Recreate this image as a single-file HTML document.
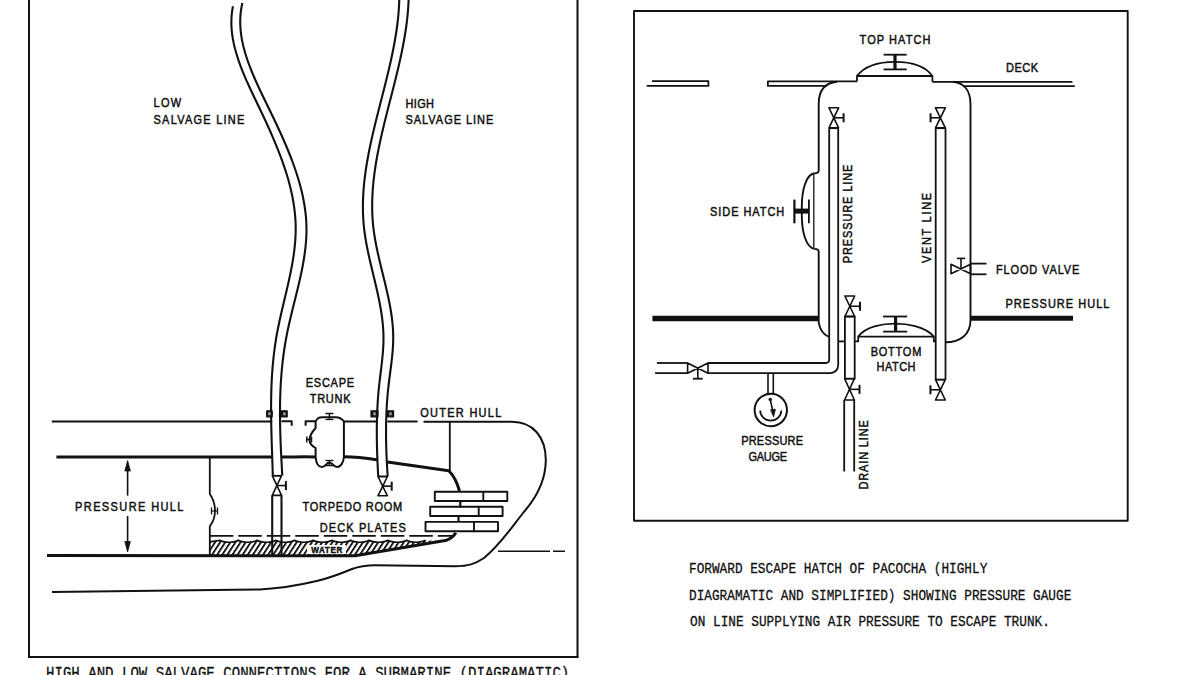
<!DOCTYPE html>
<html><head><meta charset="utf-8"><style>
html,body{margin:0;padding:0;background:#fff;}
body{width:1200px;height:675px;overflow:hidden;}
svg{display:block;}
.lb{font-family:"Liberation Sans",sans-serif;font-weight:normal;fill:#111;stroke:#111;stroke-width:0.5px;}
.wb{font-weight:bold;}
.cap{font-family:"Liberation Mono",monospace;font-weight:normal;fill:#111;stroke:#111;stroke-width:0.3px;}
</style></head><body>
<svg width="1200" height="675" viewBox="0 0 1200 675" stroke="#111" fill="none" stroke-linecap="butt" stroke-linejoin="round">
<line x1="29" y1="0" x2="29" y2="657" stroke-width="2.0"/>
<line x1="577.5" y1="0" x2="577.5" y2="657" stroke-width="2.0"/>
<line x1="28" y1="657" x2="578.5" y2="657" stroke-width="2.0"/>
<path d="M232.96,6.30 L232.41,9.30 L231.97,12.30 L231.66,15.30 L231.46,18.30 L231.37,21.30 L231.39,24.30 L231.51,27.30 L231.73,30.30 L232.04,33.30 L232.45,36.30 L232.94,39.30 L233.52,42.30 L234.17,45.30 L234.90,48.30 L235.71,51.30 L236.58,54.30 L237.51,57.30 L238.51,60.30 L239.56,63.30 L240.67,66.30 L241.82,69.30 L243.02,72.30 L244.26,75.30 L245.54,78.30 L246.85,81.30 L248.19,84.30 L249.56,87.30 L250.95,90.30 L252.35,93.30 L253.77,96.30 L255.21,99.30 L256.64,102.30 L258.09,105.30 L259.53,108.30 L260.96,111.30 L262.39,114.30 L263.80,117.30 L265.21,120.30 L266.59,123.30 L267.97,126.30 L269.32,129.30 L270.66,132.30 L271.97,135.30 L273.27,138.30 L274.54,141.30 L275.79,144.30 L277.02,147.30 L278.22,150.30 L279.39,153.30 L280.53,156.30 L281.64,159.30 L282.72,162.30 L283.76,165.30 L284.77,168.30 L285.75,171.30 L286.69,174.30 L287.59,177.30 L288.45,180.30 L289.27,183.30 L290.04,186.30 L290.77,189.30 L291.46,192.30 L292.10,195.30 L292.69,198.30 L293.24,201.30 L293.73,204.30 L294.17,207.30 L294.56,210.30 L294.89,213.30 L295.17,216.30 L295.39,219.30 L295.55,222.30 L295.65,225.30 L295.69,228.30 L295.67,231.30 L295.59,234.30 L295.45,237.30 L295.27,240.30 L295.03,243.30 L294.74,246.30 L294.41,249.30 L294.04,252.30 L293.63,255.30 L293.17,258.30 L292.69,261.30 L292.17,264.30 L291.62,267.30 L291.04,270.30 L290.44,273.30 L289.81,276.30 L289.17,279.30 L288.51,282.30 L287.83,285.30 L287.14,288.30 L286.44,291.30 L285.73,294.30 L285.02,297.30 L284.31,300.30 L283.60,303.30 L282.89,306.30 L282.18,309.30 L281.48,312.30 L280.80,315.30 L280.13,318.30 L279.47,321.30 L278.83,324.30 L278.21,327.30 L277.61,330.30 L277.04,333.30 L276.50,336.30 L275.99,339.30 L275.51,342.30 L275.06,345.30 L274.64,348.30 L274.25,351.30 L273.88,354.30 L273.54,357.30 L273.23,360.30 L272.94,363.30 L272.67,366.30 L272.43,369.30 L272.22,372.30 L272.02,375.30 L271.84,378.30 L271.69,381.30 L271.56,384.30 L271.44,387.30 L271.34,390.30 L271.26,393.30 L271.20,396.30 L271.15,399.30 L271.11,402.30 L271.10,405.30 L271.09,408.30 L271.10,411.30 L271.11,414.30 L271.14,417.30 L271.18,420.30 L271.23,423.30 L271.29,426.30 L271.36,429.30 L271.43,432.30 L271.51,435.30 L271.60,438.30 L271.69,441.30 L271.78,444.30 L271.88,447.30 L271.98,450.30 L272.08,453.30 L272.18,456.30 L272.29,459.30 L272.39,462.30 L272.49,465.30 L272.59,468.30 L272.68,471.30 L272.78,474.30 L272.81,475.50" stroke-width="2.1" fill="none" />
<path d="M242.40,3.00 L241.74,6.00 L241.20,9.00 L240.79,12.00 L240.49,15.00 L240.31,18.00 L240.23,21.00 L240.26,24.00 L240.39,27.00 L240.62,30.00 L240.94,33.00 L241.35,36.00 L241.85,39.00 L242.43,42.00 L243.09,45.00 L243.82,48.00 L244.63,51.00 L245.50,54.00 L246.44,57.00 L247.44,60.00 L248.50,63.00 L249.61,66.00 L250.77,69.00 L251.97,72.00 L253.22,75.00 L254.50,78.00 L255.82,81.00 L257.17,84.00 L258.55,87.00 L259.95,90.00 L261.37,93.00 L262.81,96.00 L264.26,99.00 L265.72,102.00 L267.18,105.00 L268.64,108.00 L270.10,111.00 L271.56,114.00 L273.01,117.00 L274.44,120.00 L275.87,123.00 L277.27,126.00 L278.67,129.00 L280.05,132.00 L281.41,135.00 L282.75,138.00 L284.06,141.00 L285.36,144.00 L286.63,147.00 L287.88,150.00 L289.10,153.00 L290.29,156.00 L291.45,159.00 L292.58,162.00 L293.67,165.00 L294.74,168.00 L295.76,171.00 L296.75,174.00 L297.70,177.00 L298.61,180.00 L299.48,183.00 L300.30,186.00 L301.08,189.00 L301.82,192.00 L302.50,195.00 L303.14,198.00 L303.72,201.00 L304.26,204.00 L304.74,207.00 L305.16,210.00 L305.53,213.00 L305.84,216.00 L306.09,219.00 L306.28,222.00 L306.41,225.00 L306.48,228.00 L306.48,231.00 L306.42,234.00 L306.30,237.00 L306.12,240.00 L305.90,243.00 L305.62,246.00 L305.29,249.00 L304.92,252.00 L304.50,255.00 L304.05,258.00 L303.55,261.00 L303.03,264.00 L302.47,267.00 L301.88,270.00 L301.26,273.00 L300.61,276.00 L299.95,279.00 L299.27,282.00 L298.56,285.00 L297.85,288.00 L297.12,291.00 L296.38,294.00 L295.64,297.00 L294.89,300.00 L294.15,303.00 L293.40,306.00 L292.65,309.00 L291.92,312.00 L291.19,315.00 L290.47,318.00 L289.77,321.00 L289.08,324.00 L288.42,327.00 L287.77,330.00 L287.15,333.00 L286.56,336.00 L285.99,339.00 L285.46,342.00 L284.95,345.00 L284.48,348.00 L284.03,351.00 L283.61,354.00 L283.22,357.00 L282.85,360.00 L282.50,363.00 L282.19,366.00 L281.89,369.00 L281.62,372.00 L281.38,375.00 L281.15,378.00 L280.95,381.00 L280.77,384.00 L280.61,387.00 L280.47,390.00 L280.35,393.00 L280.25,396.00 L280.17,399.00 L280.10,402.00 L280.05,405.00 L280.02,408.00 L280.00,411.00 L280.00,414.00 L280.01,417.00 L280.04,420.00 L280.08,423.00 L280.13,426.00 L280.20,429.00 L280.27,432.00 L280.36,435.00 L280.46,438.00 L280.57,441.00 L280.68,444.00 L280.81,447.00 L280.94,450.00 L281.08,453.00 L281.23,456.00 L281.38,459.00 L281.54,462.00 L281.70,465.00 L281.87,468.00 L282.04,471.00 L282.21,474.00 L282.30,475.50" stroke-width="2.1" fill="none" />
<line x1="272.2" y1="475.7" x2="281.5" y2="475.7" stroke-width="1.6"/>
<path d="M272.25,475.7 L281.54999999999995,475.7 L272.25,495.4 L281.54999999999995,495.4 Z" stroke-width="1.6" fill="none" />
<line x1="276.9" y1="485.54999999999995" x2="285.9" y2="485.54999999999995" stroke-width="1.6"/>
<line x1="285.9" y1="481.04999999999995" x2="285.9" y2="490.04999999999995" stroke-width="2.0"/>
<line x1="272.2" y1="495.4" x2="272.2" y2="556" stroke-width="2.1"/>
<line x1="281.5" y1="495.4" x2="281.5" y2="556" stroke-width="2.1"/>
<path d="M399.28,0.00 L399.17,3.00 L399.02,6.00 L398.84,9.00 L398.62,12.00 L398.36,15.00 L398.06,18.00 L397.74,21.00 L397.38,24.00 L396.99,27.00 L396.57,30.00 L396.12,33.00 L395.64,36.00 L395.14,39.00 L394.61,42.00 L394.06,45.00 L393.49,48.00 L392.89,51.00 L392.28,54.00 L391.65,57.00 L390.99,60.00 L390.33,63.00 L389.64,66.00 L388.95,69.00 L388.24,72.00 L387.52,75.00 L386.78,78.00 L386.04,81.00 L385.30,84.00 L384.54,87.00 L383.78,90.00 L383.02,93.00 L382.25,96.00 L381.48,99.00 L380.71,102.00 L379.94,105.00 L379.17,108.00 L378.41,111.00 L377.65,114.00 L376.89,117.00 L376.15,120.00 L375.41,123.00 L374.68,126.00 L373.96,129.00 L373.25,132.00 L372.55,135.00 L371.87,138.00 L371.21,141.00 L370.56,144.00 L369.92,147.00 L369.31,150.00 L368.72,153.00 L368.15,156.00 L367.60,159.00 L367.07,162.00 L366.58,165.00 L366.10,168.00 L365.66,171.00 L365.24,174.00 L364.85,177.00 L364.50,180.00 L364.17,183.00 L363.88,186.00 L363.63,189.00 L363.41,192.00 L363.23,195.00 L363.09,198.00 L362.98,201.00 L362.92,204.00 L362.90,207.00 L362.92,210.00 L362.99,213.00 L363.11,216.00 L363.27,219.00 L363.47,222.00 L363.73,225.00 L364.04,228.00 L364.40,231.00 L364.81,234.00 L365.26,237.00 L365.75,240.00 L366.27,243.00 L366.83,246.00 L367.43,249.00 L368.04,252.00 L368.69,255.00 L369.35,258.00 L370.03,261.00 L370.73,264.00 L371.44,267.00 L372.16,270.00 L372.88,273.00 L373.60,276.00 L374.32,279.00 L375.04,282.00 L375.75,285.00 L376.44,288.00 L377.13,291.00 L377.79,294.00 L378.44,297.00 L379.06,300.00 L379.65,303.00 L380.21,306.00 L380.74,309.00 L381.24,312.00 L381.69,315.00 L382.10,318.00 L382.46,321.00 L382.77,324.00 L383.03,327.00 L383.23,330.00 L383.38,333.00 L383.46,336.00 L383.47,339.00 L383.43,342.00 L383.32,345.00 L383.17,348.00 L382.97,351.00 L382.73,354.00 L382.45,357.00 L382.15,360.00 L381.82,363.00 L381.47,366.00 L381.11,369.00 L380.74,372.00 L380.37,375.00 L380.00,378.00 L379.65,381.00 L379.30,384.00 L378.98,387.00 L378.68,390.00 L378.41,393.00 L378.16,396.00 L377.93,399.00 L377.73,402.00 L377.55,405.00 L377.39,408.00 L377.25,411.00 L377.13,414.00 L377.03,417.00 L376.95,420.00 L376.89,423.00 L376.85,426.00 L376.82,429.00 L376.81,432.00 L376.82,435.00 L376.84,438.00 L376.88,441.00 L376.93,444.00 L376.99,447.00 L377.07,450.00 L377.16,453.00 L377.27,456.00 L377.38,459.00 L377.51,462.00 L377.64,465.00 L377.79,468.00 L377.94,471.00 L378.11,474.00 L378.25,476.50" stroke-width="2.1" fill="none" />
<path d="M408.60,0.00 L408.47,3.00 L408.30,6.00 L408.10,9.00 L407.86,12.00 L407.59,15.00 L407.28,18.00 L406.94,21.00 L406.56,24.00 L406.16,27.00 L405.72,30.00 L405.26,33.00 L404.77,36.00 L404.26,39.00 L403.72,42.00 L403.16,45.00 L402.58,48.00 L401.97,51.00 L401.35,54.00 L400.71,57.00 L400.05,60.00 L399.37,63.00 L398.68,66.00 L397.98,69.00 L397.26,72.00 L396.54,75.00 L395.80,78.00 L395.06,81.00 L394.30,84.00 L393.54,87.00 L392.78,90.00 L392.01,93.00 L391.25,96.00 L390.47,99.00 L389.70,102.00 L388.93,105.00 L388.17,108.00 L387.40,111.00 L386.65,114.00 L385.89,117.00 L385.15,120.00 L384.41,123.00 L383.68,126.00 L382.97,129.00 L382.26,132.00 L381.57,135.00 L380.90,138.00 L380.24,141.00 L379.59,144.00 L378.97,147.00 L378.36,150.00 L377.78,153.00 L377.21,156.00 L376.67,159.00 L376.16,162.00 L375.67,165.00 L375.20,168.00 L374.77,171.00 L374.36,174.00 L373.99,177.00 L373.64,180.00 L373.33,183.00 L373.05,186.00 L372.81,189.00 L372.61,192.00 L372.44,195.00 L372.31,198.00 L372.22,201.00 L372.17,204.00 L372.17,207.00 L372.21,210.00 L372.29,213.00 L372.42,216.00 L372.60,219.00 L372.83,222.00 L373.10,225.00 L373.43,228.00 L373.81,231.00 L374.23,234.00 L374.70,237.00 L375.21,240.00 L375.75,243.00 L376.33,246.00 L376.95,249.00 L377.58,252.00 L378.25,255.00 L378.93,258.00 L379.63,261.00 L380.34,264.00 L381.07,267.00 L381.80,270.00 L382.54,273.00 L383.28,276.00 L384.02,279.00 L384.75,282.00 L385.47,285.00 L386.18,288.00 L386.87,291.00 L387.55,294.00 L388.21,297.00 L388.83,300.00 L389.43,303.00 L390.00,306.00 L390.54,309.00 L391.03,312.00 L391.49,315.00 L391.89,318.00 L392.26,321.00 L392.56,324.00 L392.82,327.00 L393.01,330.00 L393.15,333.00 L393.22,336.00 L393.22,339.00 L393.16,342.00 L393.04,345.00 L392.87,348.00 L392.65,351.00 L392.38,354.00 L392.09,357.00 L391.76,360.00 L391.41,363.00 L391.03,366.00 L390.65,369.00 L390.26,372.00 L389.86,375.00 L389.47,378.00 L389.09,381.00 L388.73,384.00 L388.38,387.00 L388.07,390.00 L387.77,393.00 L387.50,396.00 L387.26,399.00 L387.04,402.00 L386.84,405.00 L386.67,408.00 L386.52,411.00 L386.39,414.00 L386.28,417.00 L386.19,420.00 L386.12,423.00 L386.08,426.00 L386.05,429.00 L386.04,432.00 L386.04,435.00 L386.07,438.00 L386.11,441.00 L386.17,444.00 L386.24,447.00 L386.33,450.00 L386.43,453.00 L386.55,456.00 L386.68,459.00 L386.82,462.00 L386.98,465.00 L387.15,468.00 L387.33,471.00 L387.52,474.00 L387.68,476.50" stroke-width="2.1" fill="none" />
<line x1="378" y1="476.5" x2="387.4" y2="476.5" stroke-width="1.6"/>
<path d="M378.0,476.5 L387.4,476.5 L378.0,495.8 L387.4,495.8 Z" stroke-width="1.6" fill="none" />
<line x1="382.7" y1="486.15" x2="391.7" y2="486.15" stroke-width="1.6"/>
<line x1="391.7" y1="481.65" x2="391.7" y2="490.65" stroke-width="2.0"/>
<rect x="266.7" y="410.8" width="5.5" height="6" stroke-width="1.2" fill="#111"/>
<rect x="268.2" y="412.3" width="2.4" height="3" fill="#fff" stroke="none" opacity="0.6"/>
<rect x="281.5" y="410.8" width="5.699999999999989" height="6" stroke-width="1.2" fill="#111"/>
<rect x="283.2" y="412.3" width="2.4" height="3" fill="#fff" stroke="none" opacity="0.6"/>
<rect x="371" y="410.8" width="7" height="6" stroke-width="1.2" fill="#111"/>
<rect x="373.3" y="412.3" width="2.4" height="3" fill="#fff" stroke="none" opacity="0.6"/>
<rect x="387.4" y="410.8" width="6.2000000000000455" height="6" stroke-width="1.2" fill="#111"/>
<rect x="389.3" y="412.3" width="2.4" height="3" fill="#fff" stroke="none" opacity="0.6"/>
<line x1="51.8" y1="421.5" x2="272.2" y2="421.5" stroke-width="2"/>
<path d="M281.5,421.3 L291.7,421.3 L291.7,425.8" stroke-width="2" fill="none" />
<path d="M305.6,425.8 L305.6,421.3 L315.6,421.3" stroke-width="2" fill="none" />
<line x1="343.9" y1="421.5" x2="378" y2="421.5" stroke-width="2"/>
<line x1="387.4" y1="421.5" x2="417.6" y2="421.5" stroke-width="2"/>
<path d="M423.5,421.8 L512,421.8 C533,421.8 545.8,437 545.8,460 C545.8,478 538,496 523,513 C512,527 500,545 484,558 C475,564 468,566.2 455,566.2 L375,565.2 C365,565.2 360,566 352,569 C340,574 330,578 316.7,581 C300,585 285,588 260,589.5 L52,592" stroke-width="2" fill="none" />
<line x1="56.4" y1="457" x2="272.2" y2="457" stroke-width="3"/>
<path d="M281.5,457 C295,457 305,456.5 315.6,457" stroke-width="3" fill="none" />
<path d="M343.9,456.8 C355,456.8 362,457.5 378,460" stroke-width="3" fill="none" />
<path d="M387.4,462 L448.8,470.8 C453,475 457,482 459.5,491" stroke-width="3" fill="none" />
<line x1="449.8" y1="421.8" x2="449.8" y2="471" stroke-width="1.8"/>
<path d="M315.6,421.3 C318,417.5 319,417.2 322,417.2 L336,417.2 C340,417.2 342,419 343.9,421.3" stroke-width="2" fill="none" />
<line x1="343.9" y1="421.3" x2="343.9" y2="457" stroke-width="2"/>
<path d="M315.6,421.3 L315.6,428 C312,432 309.5,436 309.5,440 C309.5,444 312,446 315.6,448 L315.6,457 C316,462 318,467 322,467 C326,467 326,462.5 329.4,462.5 C333,462.5 333,467 337,467 C341,467 343.5,462 343.9,457" stroke-width="2" fill="none" />
<line x1="329.4" y1="413.5" x2="329.4" y2="420" stroke-width="1.5"/>
<line x1="325.5" y1="413.5" x2="333.5" y2="413.5" stroke-width="1.5"/>
<line x1="325.5" y1="419.5" x2="333.5" y2="419.5" stroke-width="1.3"/>
<line x1="329.4" y1="460.5" x2="329.4" y2="465.5" stroke-width="1.5"/>
<line x1="325.5" y1="460.5" x2="333.5" y2="460.5" stroke-width="1.3"/>
<line x1="325.5" y1="465.5" x2="333.5" y2="465.5" stroke-width="1.5"/>
<line x1="306.8" y1="436.5" x2="306.8" y2="442.5" stroke-width="1.5"/>
<line x1="311.5" y1="436.5" x2="311.5" y2="442.5" stroke-width="1.5"/>
<line x1="306.8" y1="439.5" x2="311.5" y2="439.5" stroke-width="1.3"/>
<line x1="127.6" y1="470" x2="127.6" y2="495.6" stroke-width="1.6"/>
<line x1="127.6" y1="516" x2="127.6" y2="542" stroke-width="1.6"/>
<path d="M124.8,471 L127.6,460.6 L130.4,471 Z" stroke-width="0.8" fill="#111" />
<path d="M124.8,541.5 L127.6,552 L130.4,541.5 Z" stroke-width="0.8" fill="#111" />
<path d="M209.8,457 L209.8,494 C214,500 215,505 215,510.8 C215,516 214,521 209.8,526.3 L209.8,555.5" stroke-width="1.8" fill="none" />
<line x1="211.5" y1="507.5" x2="211.5" y2="514.5" stroke-width="1.3"/>
<line x1="217.5" y1="507.5" x2="217.5" y2="514.5" stroke-width="1.3"/>
<line x1="211.5" y1="511" x2="217.5" y2="511" stroke-width="1.2"/>
<line x1="209.8" y1="535.8" x2="452" y2="535.8" stroke-width="1.8" stroke-dasharray="23.5,5"/>
<defs><pattern id="hatch" patternUnits="userSpaceOnUse" width="5.1" height="12" patternTransform="skewX(-33)"><rect x="0" y="0" width="1.7" height="12" fill="#111"/></pattern></defs>
<path d="M209.8,555.8 L209.8,541.8 L219.7,540.3 C223.7,542.9 234.4,542.9 238.4,540.3 C242.4,542.9 253.1,542.9 257.1,540.3 C261.1,542.9 271.8,542.9 275.8,540.3 C279.8,542.9 290.5,542.9 294.5,540.3 C298.5,542.9 309.2,542.9 313.2,540.3 C317.2,542.9 327.9,542.9 331.9,540.3 C335.9,542.9 346.6,542.9 350.6,540.3 C354.6,542.9 365.3,542.9 369.3,540.3 C373.3,542.9 384.0,542.9 388.0,540.3 C392.0,542.9 402.7,542.9 406.7,540.3 C410.7,542.9 421.4,542.9 425.4,540.3 C435,541 441,540.5 446.7,540.2 C420,545 390,550 355,555.8 Z" fill="url(#hatch)" stroke="none"/>
<path d="M209.8,541.8 L219.7,540.3 C223.7,542.9 234.4,542.9 238.4,540.3 C242.4,542.9 253.1,542.9 257.1,540.3 C261.1,542.9 271.8,542.9 275.8,540.3 C279.8,542.9 290.5,542.9 294.5,540.3 C298.5,542.9 309.2,542.9 313.2,540.3 C317.2,542.9 327.9,542.9 331.9,540.3 C335.9,542.9 346.6,542.9 350.6,540.3 C354.6,542.9 365.3,542.9 369.3,540.3 C373.3,542.9 384.0,542.9 388.0,540.3 C392.0,542.9 402.7,542.9 406.7,540.3 C410.7,542.9 421.4,542.9 425.4,540.3" stroke-width="1.7" fill="none" />
<rect x="307" y="545" width="39" height="9" fill="#fff" stroke="none"/>
<path d="M47,555.5 L355,555.8 C390,550 420,545 446.7,540.2 C452,538 454,536 455.8,532.8" stroke-width="3" fill="none" />
<rect x="434.8" y="491.7" width="72.5" height="9.3" stroke-width="1.9" fill="#fff"/>
<line x1="483.3" y1="491.7" x2="483.3" y2="501.0" stroke-width="1.9"/>
<rect x="430.2" y="506.7" width="72.40000000000003" height="9.3" stroke-width="1.9" fill="#fff"/>
<line x1="478.7" y1="506.7" x2="478.7" y2="516.0" stroke-width="1.9"/>
<rect x="425.5" y="521.9" width="72.5" height="9.3" stroke-width="1.9" fill="#fff"/>
<line x1="474" y1="521.9" x2="474" y2="531.1999999999999" stroke-width="1.9"/>
<line x1="460.3" y1="500.5" x2="460.3" y2="507.5" stroke-width="2.2"/>
<line x1="458.5" y1="515.5" x2="458.5" y2="522" stroke-width="2.2"/>
<line x1="498" y1="551.3" x2="565" y2="551.3" stroke-width="1.6" stroke-dasharray="52,3"/>
<text class="lb" transform="translate(153.5,107) scale(0.88,1)" x="0" y="0" font-size="12.5" textLength="31.4" lengthAdjust="spacing">LOW</text>
<text class="lb" transform="translate(153.5,123.5) scale(0.88,1)" x="0" y="0" font-size="12.5" textLength="103.2" lengthAdjust="spacing">SALVAGE LINE</text>
<text class="lb" transform="translate(405.5,108.4) scale(0.88,1)" x="0" y="0" font-size="12.5" textLength="32.4" lengthAdjust="spacing">HIGH</text>
<text class="lb" transform="translate(405.5,124.4) scale(0.88,1)" x="0" y="0" font-size="12.5" textLength="99.8" lengthAdjust="spacing">SALVAGE LINE</text>
<text class="lb" transform="translate(305.8,387.2) scale(0.88,1)" x="0" y="0" font-size="12.5" textLength="54.9" lengthAdjust="spacing">ESCAPE</text>
<text class="lb" transform="translate(309.7,403.2) scale(0.88,1)" x="0" y="0" font-size="12.5" textLength="46.4" lengthAdjust="spacing">TRUNK</text>
<text class="lb" transform="translate(420.2,417.1) scale(0.88,1)" x="0" y="0" font-size="12.5" textLength="92.2" lengthAdjust="spacing">OUTER HULL</text>
<text class="lb" transform="translate(75.1,511) scale(0.88,1)" x="0" y="0" font-size="12.5" textLength="123.1" lengthAdjust="spacing">PRESSURE HULL</text>
<text class="lb" transform="translate(302.5,510.9) scale(0.88,1)" x="0" y="0" font-size="12.5" textLength="113.4" lengthAdjust="spacing">TORPEDO ROOM</text>
<text class="lb" transform="translate(319.8,532) scale(0.88,1)" x="0" y="0" font-size="12.5" textLength="97.7" lengthAdjust="spacing">DECK PLATES</text>
<text class="lb wb" transform="translate(311.2,552.6) scale(0.88,1)" x="0" y="0" font-size="9.2" textLength="35.3" lengthAdjust="spacing">WATER</text>
<text class="cap" transform="translate(46,678) scale(1,1)" x="0" y="0" font-size="16" textLength="523.3" lengthAdjust="spacingAndGlyphs">HIGH AND LOW SALVAGE CONNECTIONS FOR A SUBMARINE (DIAGRAMATIC)</text>
<rect x="634" y="11" width="493.7" height="509.7" stroke-width="1.9" fill="none"/>
<path d="M646.7,85.9 L708.4,85.9 L708.4,81.2 L652,81.2" stroke-width="1.8" fill="none" />
<path d="M827,85.9 L767.9,85.9 L767.9,81.3 L857,81.3" stroke-width="1.8" fill="none" />
<path d="M932.4,81.8 L1072.4,81.8" stroke-width="1.8" fill="none" />
<path d="M963,86.2 L1074.8,86.2" stroke-width="1.8" fill="none" />
<path d="M857,81.3 L857,76 L932.4,76 L932.4,81.8" stroke-width="1.8" fill="none" />
<path d="M857,76 C866,64 884,61.8 895,61.8 C906,61.8 924,64 932.4,76" stroke-width="1.8" fill="none" />
<line x1="895" y1="54.7" x2="895" y2="69" stroke-width="3.2"/>
<line x1="883.6" y1="54.7" x2="906.7" y2="54.7" stroke-width="1.8"/>
<line x1="883.6" y1="69.4" x2="906.7" y2="69.4" stroke-width="1.8"/>
<path d="M837,81.8 C824,83 818.7,92 818.7,104 L818.7,170.5 C818.7,172.5 817,173.3 814.5,173.3" stroke-width="1.9" fill="none" />
<path d="M953,81.8 C965,83 970.5,92 970.5,104 L970.5,320 C970.5,335 960,342 945.4,342.3" stroke-width="1.9" fill="none" />
<path d="M814.5,248.9 C817,248.9 818.7,249.8 818.7,252 L818.7,322.7 C820,330 824,335 828.9,336.9" stroke-width="1.9" fill="none" />
<path d="M814.5,173.3 C806,174.5 801.8,190 801.8,207 L801.8,215 C801.8,232 806,247.5 814.5,248.9" stroke-width="1.9" fill="none" />
<line x1="813.8" y1="174" x2="813.8" y2="248" stroke-width="1.3"/>
<line x1="794.4" y1="199.6" x2="794.4" y2="223.3" stroke-width="2.2"/>
<line x1="808.9" y1="199.6" x2="808.9" y2="223.3" stroke-width="1.8"/>
<line x1="794.4" y1="211.1" x2="808.9" y2="211.1" stroke-width="5"/>
<path d="M829.0,107.8 L838.5999999999999,107.8 L829.0,127.8 L838.5999999999999,127.8 Z" stroke-width="1.6" fill="none" />
<line x1="833.8" y1="117.8" x2="843.5999999999999" y2="117.8" stroke-width="1.6"/>
<line x1="843.5999999999999" y1="113.3" x2="843.5999999999999" y2="122.3" stroke-width="2.0"/>
<path d="M829.2,128.2 L838.2,128.2" stroke-width="1.8" fill="none" />
<path d="M829.2,128.2 L829.2,359.5 C829.2,362 828,363 825.5,363 L708,363" stroke-width="1.8" fill="none" />
<path d="M838.2,128.2 L838.2,365 C838.2,370 834.5,373.2 829.5,373.2 L708,373.2" stroke-width="1.8" fill="none" />
<line x1="656.9" y1="363" x2="687.6" y2="363" stroke-width="1.8"/>
<line x1="655.1" y1="373.2" x2="687.6" y2="373.2" stroke-width="1.8"/>
<path d="M687.6,363 L687.6,373.2 L708,363 L708,373.2 Z" stroke-width="1.6" fill="none" />
<line x1="697.8" y1="368.1" x2="697.8" y2="378.7" stroke-width="1.6"/>
<line x1="692.9" y1="378.7" x2="702.7" y2="378.7" stroke-width="1.8"/>
<line x1="768" y1="373.2" x2="768" y2="394" stroke-width="1.6"/>
<line x1="773.3" y1="373.2" x2="773.3" y2="394" stroke-width="1.6"/>
<circle cx="770.8" cy="410" r="16.2" stroke-width="2" fill="#fff"/>
<path d="M760.2,410.5 A10.55,10.2 0 0 0 781.3,410.5" stroke-width="1.7" fill="none" />
<line x1="770.2" y1="399.4" x2="772.8" y2="411" stroke-width="1.6"/>
<circle cx="770.2" cy="399.4" r="1.7" fill="#111" stroke="none"/>
<path d="M770.6,409.8 L773.6,416.8 L775.4,409.2 Z" stroke-width="0.8" fill="#111" />
<path d="M844.9,296 L854.6999999999999,296 L844.9,316.5 L854.6999999999999,316.5 Z" stroke-width="1.6" fill="none" />
<line x1="849.8" y1="306.25" x2="860.0" y2="306.25" stroke-width="1.6"/>
<line x1="860.0" y1="301.75" x2="860.0" y2="310.75" stroke-width="2.0"/>
<path d="M844.9,316.5 L854.7,316.5 L854.7,378.7 L844.9,378.7 Z" stroke-width="1.8" fill="none" />
<path d="M844.6,378.7 L854.4,378.7 L844.6,400 L854.4,400 Z" stroke-width="1.6" fill="none" />
<line x1="849.5" y1="389.35" x2="859.5" y2="389.35" stroke-width="1.6"/>
<line x1="859.5" y1="384.85" x2="859.5" y2="393.85" stroke-width="2.0"/>
<line x1="844.2" y1="400" x2="844.2" y2="471.5" stroke-width="1.8"/>
<line x1="854.2" y1="400" x2="854.2" y2="471.5" stroke-width="1.8"/>
<line x1="838.2" y1="341.4" x2="844.9" y2="341.4" stroke-width="1.8"/>
<path d="M854.7,341.4 L858.2,341.4 L858.2,336.6 L933.8,336.6 L933.8,341.4 L935.6,341.4" stroke-width="1.8" fill="none" />
<path d="M858.2,336.6 C866,326 884,323.6 895,323.6 C906,323.6 925,326 933.8,336.6" stroke-width="1.8" fill="none" />
<line x1="895.6" y1="316.5" x2="895.6" y2="331.6" stroke-width="3.2"/>
<line x1="883.1" y1="316.5" x2="907.2" y2="316.5" stroke-width="1.8"/>
<line x1="883.1" y1="331.6" x2="907.2" y2="331.6" stroke-width="1.8"/>
<path d="M935.5,107.8 L945.3,107.8 L935.5,127.8 L945.3,127.8 Z" stroke-width="1.6" fill="none" />
<line x1="940.4" y1="117.8" x2="930.6" y2="117.8" stroke-width="1.6"/>
<line x1="930.6" y1="113.3" x2="930.6" y2="122.3" stroke-width="2.0"/>
<path d="M935.7,128.2 L945.5,128.2" stroke-width="1.8" fill="none" />
<line x1="935.7" y1="128.2" x2="935.7" y2="379.6" stroke-width="1.8"/>
<line x1="945.5" y1="128.2" x2="945.5" y2="379.6" stroke-width="1.8"/>
<line x1="935.7" y1="379.6" x2="945.5" y2="379.6" stroke-width="1.4"/>
<path d="M935.5,379.6 L945.3,379.6 L935.5,400 L945.3,400 Z" stroke-width="1.6" fill="none" />
<line x1="940.4" y1="389.8" x2="930.4" y2="389.8" stroke-width="1.6"/>
<line x1="930.4" y1="385.3" x2="930.4" y2="394.3" stroke-width="2.0"/>
<path d="M951,264.3 L951,273.8 L970.5,264.3 L970.5,273.8 Z" stroke-width="1.6" fill="none" />
<line x1="961" y1="269" x2="961" y2="258.4" stroke-width="1.6"/>
<line x1="956.9" y1="258.4" x2="965.2" y2="258.4" stroke-width="1.6"/>
<line x1="971" y1="263.6" x2="986.5" y2="263.6" stroke-width="1.8"/>
<line x1="971" y1="274.3" x2="986.5" y2="274.3" stroke-width="1.8"/>
<line x1="652.4" y1="318.4" x2="818.7" y2="318.4" stroke-width="5.5"/>
<line x1="970.5" y1="318.2" x2="1073" y2="318.2" stroke-width="5"/>
<text class="lb" transform="translate(859.6,44) scale(0.88,1)" x="0" y="0" font-size="12.5" textLength="80.5" lengthAdjust="spacing">TOP HATCH</text>
<text class="lb" transform="translate(1006.1,71.6) scale(0.88,1)" x="0" y="0" font-size="12.5" textLength="36.4" lengthAdjust="spacing">DECK</text>
<text class="lb" transform="translate(710,215.6) scale(0.88,1)" x="0" y="0" font-size="12.5" textLength="84.4" lengthAdjust="spacing">SIDE HATCH</text>
<text class="lb" transform="translate(852.1,263.3) rotate(-90) scale(0.88,1)" x="0" y="0" font-size="12.5" textLength="112.2" lengthAdjust="spacing">PRESSURE LINE</text>
<text class="lb" transform="translate(930.8,263.1) rotate(-90) scale(0.88,1)" x="0" y="0" font-size="12.5" textLength="79.8" lengthAdjust="spacing">VENT LINE</text>
<text class="lb" transform="translate(996,273.8) scale(0.88,1)" x="0" y="0" font-size="12.5" textLength="94.7" lengthAdjust="spacing">FLOOD VALVE</text>
<text class="lb" transform="translate(1005.5,307.5) scale(0.88,1)" x="0" y="0" font-size="12.5" textLength="118.1" lengthAdjust="spacing">PRESSURE HULL</text>
<text class="lb" transform="translate(870.7,356.1) scale(0.88,1)" x="0" y="0" font-size="12.5" textLength="57.5" lengthAdjust="spacing">BOTTOM</text>
<text class="lb" transform="translate(876.6,370.7) scale(0.88,1)" x="0" y="0" font-size="12.5" textLength="44.2" lengthAdjust="spacing">HATCH</text>
<text class="lb" transform="translate(741.2,444.6) scale(0.88,1)" x="0" y="0" font-size="12.5" textLength="70.3" lengthAdjust="spacing">PRESSURE</text>
<text class="lb" transform="translate(748.5,460.9) scale(0.88,1)" x="0" y="0" font-size="12.5" textLength="43.9" lengthAdjust="spacing">GAUGE</text>
<text class="lb" transform="translate(867.8,489.4) rotate(-90) scale(0.88,1)" x="0" y="0" font-size="12.5" textLength="78.6" lengthAdjust="spacing">DRAIN LINE</text>
<text class="cap" transform="translate(689,572.9) scale(1,1)" x="0" y="0" font-size="15" textLength="298.3" lengthAdjust="spacingAndGlyphs">FORWARD ESCAPE HATCH OF PACOCHA (HIGHLY</text>
<text class="cap" transform="translate(689,599.5) scale(1,1)" x="0" y="0" font-size="15" textLength="382.3" lengthAdjust="spacingAndGlyphs">DIAGRAMATIC AND SIMPLIFIED) SHOWING PRESSURE GAUGE</text>
<text class="cap" transform="translate(690,625.5) scale(1,1)" x="0" y="0" font-size="15" textLength="359.9" lengthAdjust="spacingAndGlyphs">ON LINE SUPPLYING AIR PRESSURE TO ESCAPE TRUNK.</text>
</svg>
</body></html>
